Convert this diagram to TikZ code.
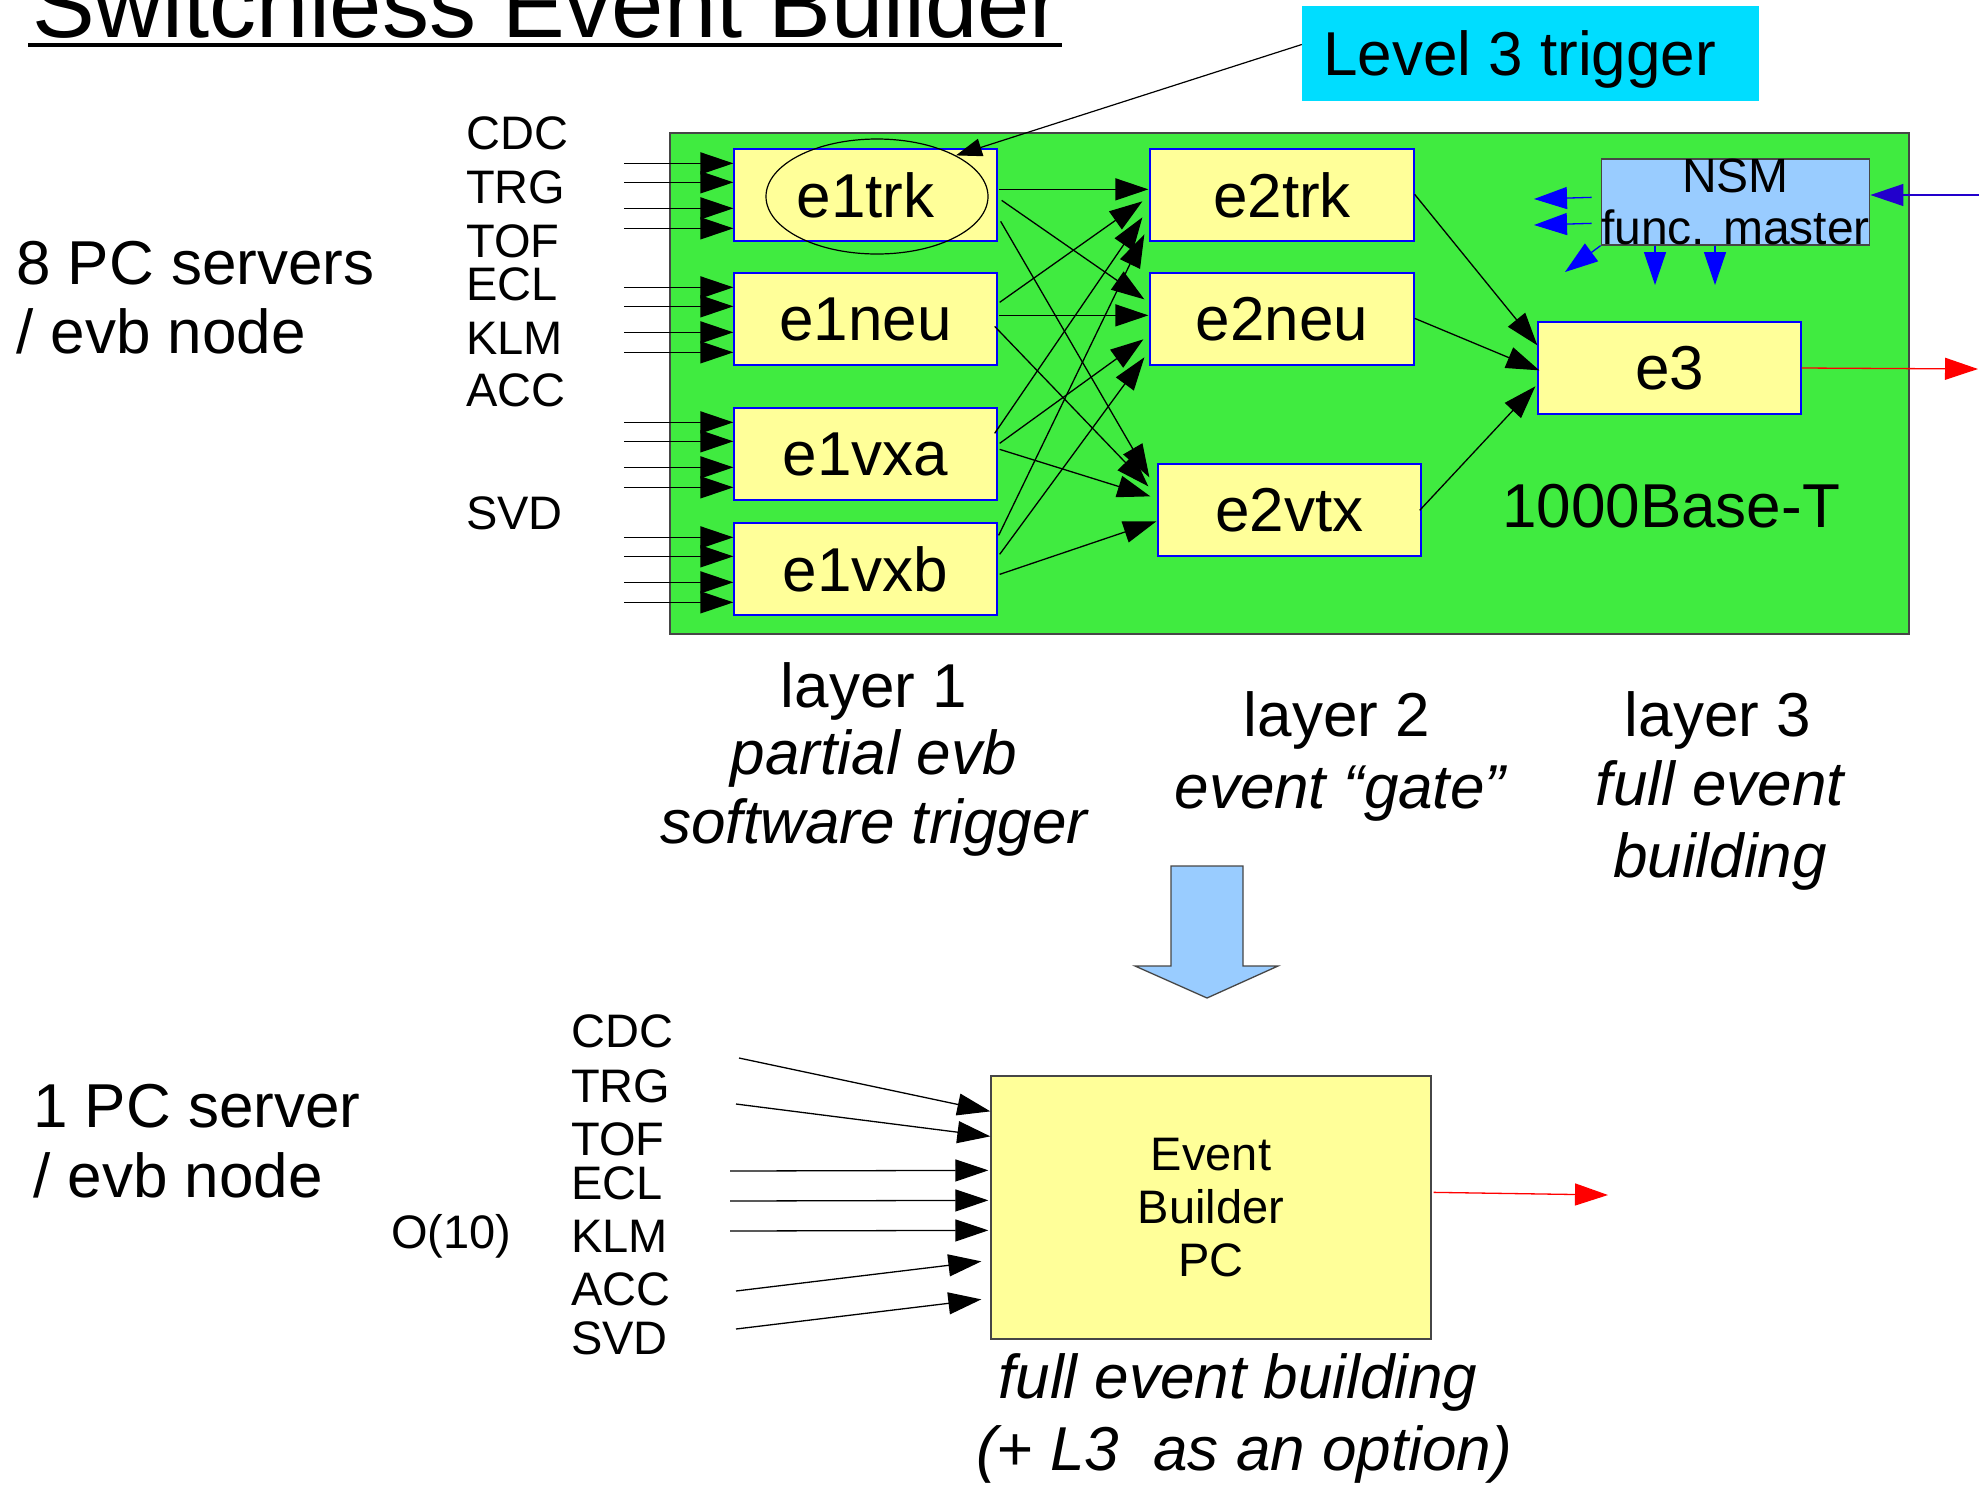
\documentclass[tikz,border=0pt]{standalone}
\usepackage{fontspec}
\setmainfont{Liberation Sans}
\usetikzlibrary{arrows.meta,calc,shapes.geometric}

\definecolor{panelgreen}{RGB}{64,235,64}
\definecolor{boxyellow}{RGB}{255,255,153}
\definecolor{trigcyan}{RGB}{0,221,255}
\definecolor{nsmblue}{RGB}{153,204,255}
\definecolor{ctlblue}{RGB}{0,0,255}
\definecolor{inblue}{RGB}{34,0,204}
\definecolor{outred}{RGB}{255,0,0}
\definecolor{edgegray}{RGB}{70,70,70}

\tikzset{
  bigfont/.style={font=\fontsize{62}{70}\selectfont},
  smallfont/.style={font=\fontsize{47}{52}\selectfont},
  stage/.style={draw=blue, line width=1.3pt, fill=boxyellow, minimum width=263pt,
    minimum height=92pt, inner sep=0pt, bigfont},
  lbl/.style={inner sep=0pt, anchor=base west},
  capline/.style={inner sep=0pt, anchor=base, bigfont},
  bigtip/.style={-{Triangle[length=33pt,width=22pt]}},
  flow/.style={bigtip, line width=1.3pt, black},
  ctl/.style={bigtip, line width=1.3pt, ctlblue},
  dataout/.style={bigtip, line width=1.3pt, outred},
}

\begin{document}
\begin{tikzpicture}[x=1pt,y=-1pt]
\useasboundingbox (0,0) rectangle (1979,1484);

% title
\node[lbl, font=\fontsize{94}{100}\selectfont] (title) at (32,37) {Switchless Event Builder};
\draw[line width=4.7pt] ($(title.base west)+(-4,8)$) -- ($(title.base east)+(0,8)$);

% level 3 trigger box
\node[fill=trigcyan, minimum width=457pt, minimum height=95pt, inner sep=0pt] (l3trig) at (1530.5,53.5) {};
\node[lbl, bigfont] (l3text) at (1323,75) {Level 3 trigger};

% network panel
\node[draw=edgegray, fill=panelgreen, line width=2pt, minimum width=1239pt,
  minimum height=501pt, inner sep=0pt] (panel) at (1289.5,383.5) {};

% layer 1
\node[stage] (e1trk) at (865.5,195) {e1trk};
\node[stage] (e1neu) at (865.5,319) {e1neu};
\node[stage] (e1vxa) at (865.5,454) {e1vxa};
\node[stage] (e1vxb) at (865.5,569) {e1vxb};
% layer 2
\node[stage, minimum width=264pt] (e2trk) at (1282,195) {e2trk};
\node[stage, minimum width=264pt] (e2neu) at (1282,319) {e2neu};
\node[stage] (e2vtx) at (1289.5,510) {e2vtx};
% layer 3
\node[stage] (e3) at (1669.5,368) {e3};

% NSM function master
\node[draw=edgegray, fill=nsmblue, line width=1.3pt, minimum width=267pt, minimum height=84pt,
  inner sep=0pt, align=center, font=\fontsize{48}{52}\selectfont] (nsm) at (1735.5,202) {NSM\\func. master};

\node[lbl, bigfont] (gbe) at (1502,527) {1000Base-T};

% mark on the tracking node
\node[ellipse, draw, line width=1.2pt, minimum width=222pt, minimum height=115pt, inner sep=0pt] (l3ring) at (877,196.5) {};
\draw[-{Triangle[length=26pt,width=18pt]}, line width=1.2pt] ([yshift=9pt]l3trig.west) -- (l3ring.north east);

% detector inputs into layer 1
\foreach \b in {e1trk,e1neu,e1vxa,e1vxb}{
  \foreach \o in {15,34,60,80}{
    \draw[flow] ($(\b.north west)+(-109,\o)$) -- ($(\b.north west)+(0,\o)$);
  }
}

% layer 1 -> layer 2
\foreach \s/\sx/\sy/\t/\tx/\ty in {
  e1trk/1/41/e2trk/-1/41, e1trk/4/52/e2neu/-5/27, e1trk/3/73/e2vtx/-8/14,
  e1neu/2/30/e2trk/-7/53, e1neu/1/43/e2neu/-1/43, e1neu/-3/54/e2vtx/-9/23,
  e1vxa/-3/26/e2trk/-7/69, e1vxa/2/36/e2neu/-6/67, e1vxa/2/42/e2vtx/-7/33,
  e1vxb/1/13/e2trk/-5/86, e1vxb/2/32/e2neu/-5/85, e1vxb/2/52/e2vtx/-1/58}{
  \draw[flow] ($(\s.north east)+(\sx,\sy)$) -- ($(\t.north west)+(\tx,\ty)$);
}

% layer 2 -> layer 3
\draw[flow] ($(e2trk.north east)+(0,46)$) -- ($(e3.north west)+(0,24)$);
\draw[flow] ($(e2neu.north east)+(0,46)$) -- ($(e3.north west)+(2,49)$);
\draw[flow] ($(e2vtx.north east)+(-2,47)$) -- ($(e3.north west)+(-2,65)$);

% output of layer 3
\coordinate (e3out) at (1978,369);
\draw[dataout] (e3.east) -- (e3out);

% NSM control lines
\coordinate (nsmA) at (1534,199);
\coordinate (nsmB) at (1534,225);
\coordinate (nsmC) at (1565,272);
\coordinate (nsmD) at (1655,285);
\coordinate (nsmE) at (1715,285);
\coordinate (nsmin) at (1979,195);
\draw[ctl] ($(nsm.north west)+(-9,39)$) -- (nsmA);
\draw[ctl] ($(nsm.north west)+(-9,65)$) -- (nsmB);
\draw[ctl] (nsm.south west) -- (nsmC);
\draw[ctl] (nsm.south west -| nsmD) -- (nsmD);
\draw[ctl] (nsm.south west -| nsmE) -- (nsmE);
\draw[bigtip, line width=1.3pt, inblue] (nsmin) -- (nsmin -| nsm.east);

% detector labels (upper)
\foreach \n/\t/\y in {uc/CDC/149, ut/TRG/203, uo/TOF/257, ue/ECL/300, uk/KLM/354, ua/ACC/406.5, us/SVD/529}{
  \node[lbl, smallfont] (lab\n) at (466,\y) {\t};
}
\node[lbl, bigfont] (srv8a) at (16,284) {8 PC servers};
\node[lbl, bigfont] (srv8b) at (16,353) {/ evb node};

% layer captions
\node[capline] (c1a) at (874,707) {layer 1};
\node[capline] (c1b) at (874,774) {\itshape partial evb};
\node[capline] (c1c) at (874,843) {\itshape software trigger};
\node[capline] (c2a) at (1337,736) {layer 2};
\node[capline] (c2b) at (1340,808) {\itshape event “gate”};
\node[capline] (c3a) at (1718,736) {layer 3};
\node[capline] (c3b) at (1720,805) {\itshape full event};
\node[capline] (c3c) at (1720,877) {\itshape building};

% transition arrow
\draw[fill=nsmblue, draw=edgegray, line width=1.3pt, line join=miter]
  (1171,866) -- (1243,866) -- (1243,966) -- (1278,966) -- (1207,998) -- (1135,966) -- (1171,966) -- cycle;

% single event builder PC
\node[draw=edgegray, fill=boxyellow, line width=1.3pt, minimum width=440pt, minimum height=263pt,
  inner sep=0pt, align=center, font=\fontsize{47}{53}\selectfont] (ebpc) at (1211,1207.5) {Event\\Builder\\PC};

\foreach \n/\t/\y in {lc/CDC/1047, lt/TRG/1102, lo/TOF/1155, le/ECL/1199, lk/KLM/1252, la/ACC/1305, ls/SVD/1354}{
  \node[lbl, smallfont] (lab\n) at (571,\y) {\t};
}
\node[lbl, bigfont] (srv1a) at (33,1127) {1 PC server};
\node[lbl, bigfont] (srv1b) at (33,1197) {/ evb node};
\node[lbl, smallfont] (oten) at (391,1248) {O(10)};

\foreach \i/\fx/\fy/\ex/\ey in {1/739/1058/0/36, 2/736/1104/0/61, 3/730/1171/-2/95, 4/730/1201/-2/125,
  5/730/1231/-2/155, 6/736/1291/-9/186, 7/736/1329/-9/224}{
  \coordinate (src\i) at (\fx,\fy);
  \draw[flow] (src\i) -- ($(ebpc.north west)+(\ex,\ey)$);
}
\coordinate (pcout) at (1608,1195);
\draw[dataout] ($(ebpc.north east)+(2,117)$) -- (pcout);

\node[capline] (c4a) at (1238,1398) {\itshape full event building};
\node[capline] (c4b) at (1244,1470) {\itshape (+ L3\ \ as an option)};
\end{tikzpicture}
\end{document}
